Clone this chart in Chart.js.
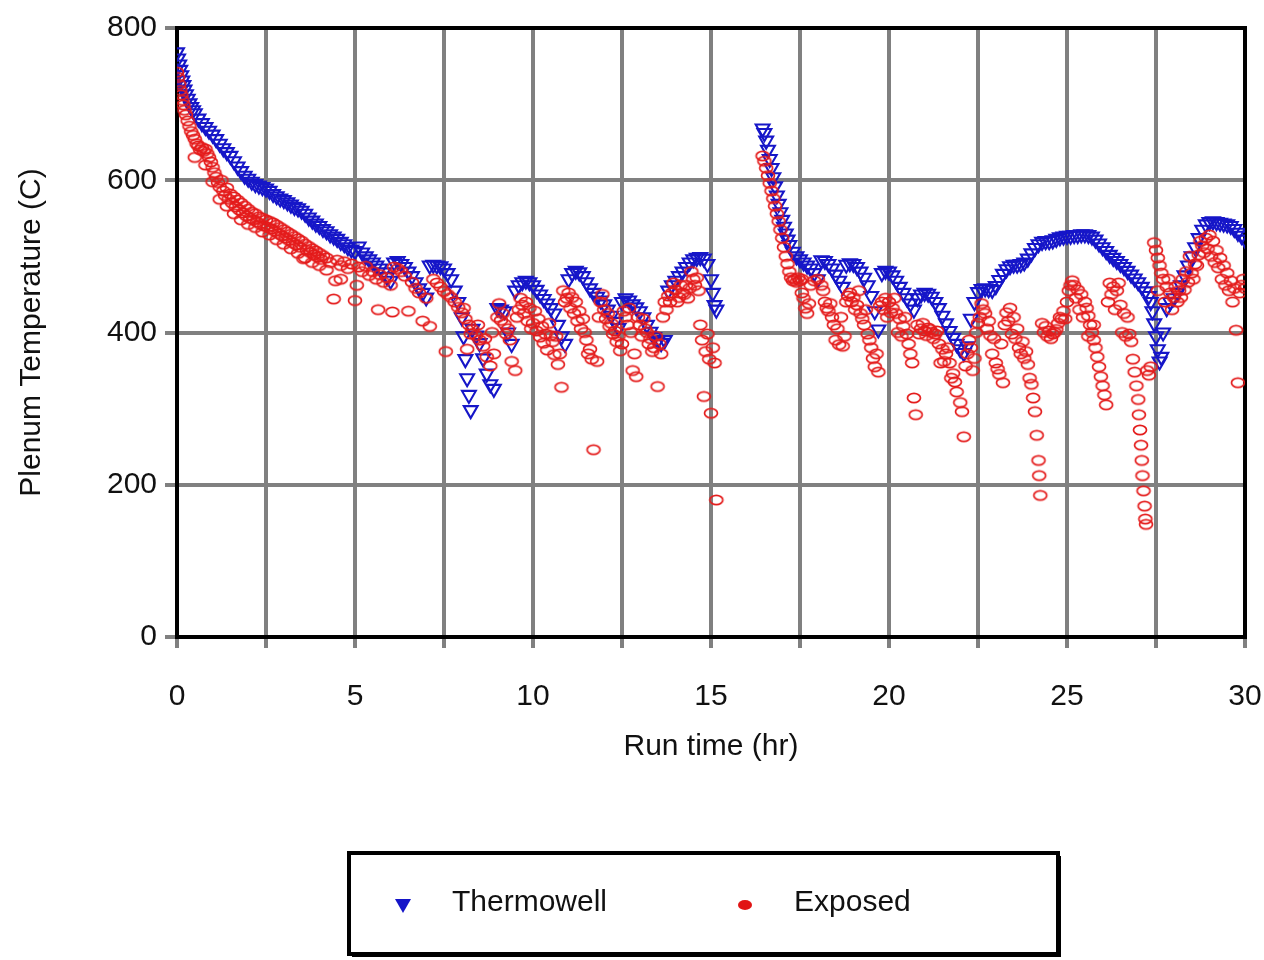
<!DOCTYPE html>
<html>
<head>
<meta charset="utf-8">
<title>Plenum Temperature</title>
<script src="https://cdn.jsdelivr.net/npm/chart.js@4.4.1/dist/chart.umd.min.js"></script>
<style>
  html, body { margin: 0; padding: 0; background: #fff; }
  #wrap { width: 1264px; height: 960px; }
</style>
</head>
<body>
<div id="wrap"><canvas id="chart-plenum" width="1264" height="960"></canvas></div>
<script>
// THERMOWELL READINGS [hr, C] - FIRST RUN
const thermowellRun1 = [
  [0,768],[0.03,760],[0.06,752],[0.09,745],[0.12,738],[0.15,731],[0.18,725],[0.21,719],[0.25,713],[0.3,707],
  [0.35,701],[0.4,696],[0.45,692],[0.5,688],[0.6,681],[0.7,675],[0.8,670],[0.9,665],[1.0,660],[1.1,654],
  [1.2,648],[1.3,642],[1.4,637],[1.5,632],[1.6,625],[1.7,618],[1.8,612],[1.9,606],[2.0,602],[2.1,598],
  [2.2,595],[2.3,593],[2.4,591],[2.5,589],[2.6,586],[2.7,582],[2.8,579],[2.9,576],[3.0,574],[3.1,571],
  [3.2,568],[3.3,565],[3.4,563],[3.5,560],[3.6,556],[3.7,551],[3.8,547],[3.9,543],[4.0,540],[4.1,536],
  [4.2,533],[4.3,529],[4.4,526],[4.5,523],[4.6,519],[4.7,516],[4.8,512],[4.9,509],[5.0,507],[5.1,513],
  [5.2,505],[5.3,500],[5.4,496],[5.5,492],[5.6,488],[5.7,484],[5.8,479],[5.9,473],[6.0,468],[6.1,492],
  [6.2,494],[6.3,490],[6.4,486],[6.5,480],[6.6,474],[6.7,466],[6.8,458],[6.9,452],[7.0,446],[7.1,488],
  [7.2,489],[7.3,488],[7.4,487],[7.5,484],[7.6,478],[7.7,470],[7.8,455],[7.9,440],[8.0,420],[8.05,395],
  [8.1,365],[8.15,340],[8.2,318],[8.25,298],[8.3,405],[8.4,396],[8.5,386],[8.6,366],[8.7,346],[8.8,332],
  [8.9,326],[9.0,432],[9.1,430],[9.2,428],[9.3,400],[9.4,385],[9.5,455],[9.6,462],[9.7,466],[9.8,468],
  [9.9,466],[10.0,462],[10.1,456],[10.2,450],[10.3,444],[10.4,438],[10.5,432],[10.6,425],[10.7,410],[10.8,395],
  [10.9,385],[11.0,470],[11.1,478],[11.2,481],[11.3,479],[11.4,474],[11.5,466],[11.6,458],[11.7,452],[11.8,447],
  [11.9,442],[12.0,437],[12.1,430],[12.2,422],[12.3,414],[12.4,406],[12.5,440],[12.6,445],[12.7,442],[12.8,437],
  [12.9,433],[13.0,428],[13.1,420],[13.2,410],[13.3,401],[13.4,394],[13.5,389],[13.6,386],[13.7,390],[13.8,455],
  [13.9,462],[14.0,468],[14.1,474],[14.2,480],[14.3,486],[14.4,492],[14.5,496],[14.6,498],[14.7,499],[14.8,497],
  [14.9,490],[15.0,470],[15.05,452],[15.1,436],[15.15,430]
];

// THERMOWELL READINGS [hr, C] - SECOND RUN
const thermowellRun2 = [
  [16.45,668],[16.5,662],[16.55,652],[16.6,640],[16.65,628],[16.7,616],[16.75,604],[16.8,592],[16.85,580],[16.9,569],
  [16.95,558],[17.0,548],[17.05,539],[17.1,530],[17.15,522],[17.2,515],[17.3,506],[17.4,500],[17.5,496],[17.6,492],
  [17.7,488],[17.8,484],[17.9,478],[18.0,470],[18.1,495],[18.2,494],[18.3,490],[18.4,484],[18.5,476],[18.6,468],
  [18.7,460],[18.8,489],[18.9,491],[19.0,490],[19.1,486],[19.2,480],[19.3,472],[19.4,462],[19.5,448],[19.6,428],
  [19.7,404],[19.8,478],[19.9,481],[20.0,480],[20.1,475],[20.2,468],[20.3,460],[20.4,452],[20.5,445],[20.6,438],
  [20.7,430],[20.8,445],[20.9,450],[21.0,452],[21.1,451],[21.2,447],[21.3,440],[21.4,432],[21.5,422],[21.6,412],
  [21.7,402],[21.8,393],[21.9,385],[22.0,378],[22.1,373],[22.2,382],[22.3,418],[22.4,440],[22.5,453],[22.6,457],
  [22.7,458],[22.8,457],[22.9,456],[23.0,461],[23.1,469],[23.2,477],[23.3,483],[23.4,487],[23.5,489],[23.6,489],
  [23.7,490],[23.8,492],[23.9,497],[24.0,504],[24.1,511],[24.2,516],[24.3,519],[24.4,520],[24.5,520],[24.6,521],
  [24.7,523],[24.8,525],[24.9,526],[25.0,527],[25.1,527],[25.2,528],[25.3,528],[25.4,529],[25.5,529],[25.6,528],
  [25.7,526],[25.8,522],[25.9,517],[26.0,512],[26.1,507],[26.2,502],[26.3,498],[26.4,494],[26.5,490],[26.6,486],
  [26.7,481],[26.8,476],[26.9,471],[27.0,466],[27.1,460],[27.2,454],[27.3,448],[27.35,440],[27.4,428],[27.45,412],
  [27.5,395],[27.55,378],[27.6,362],[27.65,368],[27.7,400],[27.8,432],[27.9,440],[28.0,445],[28.1,452],[28.2,462],
  [28.3,475],[28.4,488],[28.5,500],[28.6,512],[28.7,524],[28.8,535],[28.9,542],[29.0,545],[29.1,546],[29.2,545],
  [29.3,544],[29.4,543],[29.5,542],[29.6,540],[29.7,536],[29.8,531],[29.9,527],[30.0,522]
];

// EXPOSED THERMOCOUPLE [hr, C] - FIRST RUN
const exposedRun1 = [
  [0,742],[0.03,735],[0.06,726],[0.09,718],[0.12,712],[0.15,705],[0.18,699],[0.21,692],[0.25,686],[0.3,678],
  [0.35,671],[0.4,664],[0.45,659],[0.5,654],[0.55,648],[0.6,645],[0.65,640],[0.7,643],[0.75,638],[0.8,641],
  [0.85,635],[0.9,630],[0.95,624],[1.0,617],[1.05,610],[1.1,604],[1.15,597],[1.2,591],[1.25,600],[1.3,586],
  [1.35,580],[1.4,590],[1.45,575],[1.5,582],[1.55,570],[1.6,578],[1.65,565],[1.7,574],[1.75,561],[1.8,570],
  [1.85,557],[1.9,566],[1.95,553],[2.0,562],[2.05,550],[2.1,558],[2.15,548],[2.2,556],[2.25,545],[2.3,552],
  [2.35,542],[2.4,550],[2.45,540],[2.5,548],[2.55,538],[2.6,546],[2.65,536],[2.7,544],[2.75,533],[2.8,541],
  [2.85,530],[2.9,538],[2.95,527],[3.0,535],[3.05,524],[3.1,532],[3.15,521],[3.2,529],[3.25,518],[3.3,526],
  [3.35,515],[3.4,523],[3.45,512],[3.5,520],[3.55,497],[3.6,516],[3.65,508],[3.7,513],[3.75,505],[3.8,510],
  [3.85,502],[3.9,507],[3.95,499],[4.0,504],[4.05,496],[4.1,501],[4.2,498],[4.3,492],[4.4,444],[4.45,468],
  [4.5,495],[4.6,488],[4.7,493],[4.8,484],[4.9,490],[5.0,442],[5.05,462],[5.1,486],[5.2,480],[5.3,487],
  [5.4,475],[5.5,480],[5.6,470],[5.65,430],[5.7,476],[5.8,466],[5.9,472],[6.0,462],[6.05,427],[6.1,486],
  [6.2,484],[6.3,480],[6.4,474],[6.5,428],[6.6,466],[6.7,458],[6.8,452],[6.9,415],[7.0,445],[7.1,408],
  [7.2,470],[7.3,465],[7.4,460],[7.5,454],[7.55,375],[7.6,450],[7.7,446],[7.8,440],[7.9,433],[8.0,426],
  [8.1,418],[8.15,378],[8.2,410],[8.3,404],[8.4,396],[8.5,390],[8.6,382],[8.7,368],[8.8,356],[8.9,372],
  [9.0,420],[9.1,416],[9.2,411],[9.3,405],[9.4,362],[9.5,350],[9.6,430],[9.7,436],[9.8,440],[9.9,432],
  [10.0,412],[10.1,402],[10.2,394],[10.3,386],[10.4,377],[10.5,396],[10.6,371],[10.7,358],[10.8,328],[10.9,440],
  [11.0,452],[11.1,446],[11.2,440],[11.3,428],[11.4,418],[11.5,390],[11.6,378],[11.7,246],[11.8,362],[11.9,440],
  [12.0,430],[12.1,425],[12.2,412],[12.3,402],[12.4,395],[12.5,385],[12.6,420],[12.7,432],[12.8,350],[12.9,342],
  [13.0,410],[13.1,418],[13.2,400],[13.3,392],[13.4,380],[13.5,329],[13.6,372],[13.7,440],[13.8,448],[13.9,452],
  [14.0,456],[14.1,446],[14.2,452],[14.3,462],[14.4,458],[14.5,470],[14.6,472],[14.7,410],[14.75,390],[14.8,316],
  [14.85,375],[14.9,398],[14.95,365],[15.0,294],[15.05,380],[15.1,360],[15.15,180],
  [0.5,630],[0.8,620],[1.0,598],[1.2,575],[1.4,566],[1.6,556],[1.8,548],[2.0,542],[2.2,538],[2.4,532],
  [2.6,528],[2.8,522],[3.0,516],[3.2,510],[3.4,504],[3.6,498],[3.8,492],[4.0,488],[4.2,482],[4.6,470],
  [8.05,432],[8.25,398],[8.45,410],[8.65,392],[8.85,400],[9.05,438],[9.15,425],[9.25,398],[9.35,390],[9.55,420],
  [9.65,445],[9.75,425],[9.85,415],[9.95,405],[10.05,428],[10.15,418],[10.25,408],[10.35,398],[10.45,412],[10.55,388],
  [10.65,395],[10.75,372],[10.85,455],[10.95,445],[11.05,432],[11.15,425],[11.25,415],[11.35,405],[11.45,400],[11.55,372],
  [11.65,365],[11.85,420],[11.95,450],[12.05,418],[12.15,408],[12.25,398],[12.35,388],[12.45,376],[12.55,428],[12.65,410],
  [12.75,400],[12.85,372],[12.95,420],[13.05,395],[13.15,405],[13.25,385],[13.35,375],[13.45,395],[13.55,385],[13.65,420],
  [13.75,430],[13.85,440],[13.95,465],[14.05,440],[14.15,462],[14.25,450],[14.35,445],[14.45,480],[14.55,462],[14.65,455]
];

// EXPOSED THERMOCOUPLE [hr, C] - SECOND RUN
const exposedRun2 = [
  [16.45,632],[16.5,625],[16.55,616],[16.6,606],[16.65,596],[16.7,586],[16.75,576],[16.8,566],[16.85,556],[16.9,546],
  [16.95,535],[17.0,524],[17.05,512],[17.1,500],[17.15,490],[17.2,480],[17.25,472],[17.3,468],[17.35,470],[17.4,466],
  [17.45,472],[17.5,468],[17.55,452],[17.6,445],[17.65,432],[17.7,425],[17.8,462],[17.9,468],[18.0,470],[18.1,462],
  [18.2,440],[18.25,432],[18.3,428],[18.4,420],[18.45,410],[18.5,390],[18.6,384],[18.7,382],[18.8,440],[18.85,448],
  [18.9,452],[19.0,446],[19.1,436],[19.2,425],[19.25,418],[19.3,410],[19.4,398],[19.5,380],[19.55,366],[19.6,355],
  [19.7,348],[19.75,435],[19.8,440],[19.9,445],[20.0,440],[20.1,432],[20.2,425],[20.3,418],[20.4,408],[20.5,398],
  [20.55,385],[20.6,372],[20.65,360],[20.7,314],[20.75,292],[20.8,410],[20.9,405],[21.0,402],[21.1,406],[21.2,400],
  [21.3,398],[21.4,385],[21.5,378],[21.6,372],[21.7,360],[21.8,346],[21.85,335],[21.9,322],[22.0,308],[22.05,296],
  [22.1,263],[22.2,372],[22.3,380],[22.4,366],[22.5,412],[22.6,438],[22.65,430],[22.7,425],[22.8,415],[22.9,372],
  [23.0,360],[23.05,352],[23.1,345],[23.2,334],[23.3,426],[23.4,432],[23.5,420],[23.6,405],[23.7,372],[23.8,366],
  [23.9,358],[24.0,332],[24.05,314],[24.1,296],[24.15,265],[24.2,232],[24.22,212],[24.25,186],[24.3,412],[24.4,408],
  [24.5,402],[24.6,398],[24.7,404],[24.8,420],[24.9,428],[25.0,440],[25.05,455],[25.1,462],[25.15,468],[25.2,462],
  [25.3,456],[25.4,450],[25.5,440],[25.55,432],[25.6,422],[25.65,410],[25.7,400],[25.75,390],[25.8,380],[25.85,368],
  [25.9,355],[25.95,342],[26.0,330],[26.05,318],[26.1,305],[26.2,465],[26.3,460],[26.4,455],[26.5,436],[26.6,425],
  [26.7,420],[26.75,398],[26.8,388],[26.85,365],[26.9,348],[26.95,330],[27.0,312],[27.02,292],[27.05,272],[27.08,252],
  [27.1,232],[27.12,212],[27.15,192],[27.18,172],[27.2,155],[27.22,148],[27.25,350],[27.3,344],[27.45,518],[27.5,508],
  [27.55,498],[27.6,488],[27.65,478],[27.7,470],[27.8,460],[27.9,452],[28.0,446],[28.1,440],[28.2,446],[28.3,456],
  [28.4,466],[28.5,478],[28.6,490],[28.7,502],[28.8,514],[28.9,524],[29.0,528],[29.1,520],[29.2,508],[29.3,498],
  [29.4,488],[29.5,478],[29.6,468],[29.7,458],[29.75,403],[29.8,334],[29.85,452],[29.9,462],[29.95,470],[30.0,458],
  [17.55,470],[17.75,438],[18.15,455],[18.35,438],[18.55,405],[18.65,420],[18.75,395],[18.95,440],[19.05,430],[19.15,455],
  [19.35,430],[19.45,390],[19.65,372],[19.85,430],[19.95,420],[20.05,426],[20.15,445],[20.25,400],[20.35,395],[20.45,420],
  [20.85,398],[20.95,412],[21.05,396],[21.15,404],[21.25,392],[21.35,402],[21.45,360],[21.55,362],[21.65,380],[21.75,340],
  [22.15,356],[22.25,390],[22.35,350],[22.45,400],[22.55,420],[22.75,405],[22.85,396],[22.95,392],[23.15,385],[23.25,410],
  [23.35,415],[23.45,398],[23.55,392],[23.65,380],[23.75,388],[23.85,375],[23.95,340],[24.35,400],[24.45,395],[24.55,392],
  [24.65,400],[24.75,412],[24.85,418],[24.95,418],[25.25,445],[25.35,430],[25.45,420],[25.6,395],[25.75,410],[26.15,440],
  [26.25,450],[26.35,430],[26.45,465],[26.55,400],[26.65,395],[27.35,355],[27.55,455],[27.75,440],[27.85,470],[27.95,430],
  [28.05,460],[28.15,455],[28.25,470],[28.35,480],[28.45,500],[28.55,470],[28.65,488],[28.75,520],[28.85,505],[28.95,510],
  [29.05,500],[29.15,492],[29.25,485],[29.35,470],[29.45,462],[29.55,455],[29.65,440]
];

// AXIS SETTINGS
const timeRange = [0, 30];
const tempRange = [0, 800];
const timeStep = 2.5;
const timeLabelStep = 5;
const tempStep = 200;

const FONT = "'Liberation Sans', Arial, Helvetica, sans-serif";
const BLUE = 'rgb(22, 22, 200)';
const RED = 'rgb(228, 28, 28)';

function toXY(rows) {
  return rows.map(r => ({ x: r[0], y: r[1] }));
}

// OPEN OVAL MARKER FOR THE EXPOSED SERIES
function makeRing(color) {
  const c = document.createElement('canvas');
  c.width = 18;
  c.height = 14;
  const g = c.getContext('2d');
  g.strokeStyle = color;
  g.lineWidth = 1.7;
  g.beginPath();
  g.ellipse(9, 7, 6.5, 4.6, 0, 0, Math.PI * 2);
  g.stroke();
  return c;
}

// BLACK FRAME AROUND THE PLOT AREA
const plotFrame = {
  id: 'plotFrame',
  beforeDatasetsDraw(chart) {
    const { ctx, chartArea: a } = chart;
    ctx.save();
    ctx.strokeStyle = '#000';
    ctx.lineWidth = 4;
    ctx.strokeRect(a.left, a.top, a.right - a.left, a.bottom - a.top);
    ctx.restore();
  }
};

// BOXED LEGEND UNDER THE CHART
const boxLegend = {
  id: 'boxLegend',
  afterDraw(chart) {
    const ctx = chart.ctx;
    const box = { x: 349, y: 853, w: 709, h: 101 };
    ctx.save();
    ctx.fillStyle = '#000';
    ctx.fillRect(box.x + 3, box.y + 3, box.w, box.h);
    ctx.fillStyle = '#fff';
    ctx.fillRect(box.x, box.y, box.w, box.h);
    ctx.strokeStyle = '#000';
    ctx.lineWidth = 4;
    ctx.strokeRect(box.x, box.y, box.w, box.h);

    const cy = 905;
    const markerX = [403, 745];
    chart.data.datasets.forEach((ds, i) => {
      const mx = markerX[i];
      ctx.fillStyle = ds.legendColor;
      ctx.beginPath();
      if (i === 0) {
        ctx.moveTo(mx - 8, cy - 6);
        ctx.lineTo(mx + 8, cy - 6);
        ctx.lineTo(mx, cy + 8);
        ctx.closePath();
      } else {
        ctx.ellipse(mx, cy, 7, 5, 0, 0, Math.PI * 2);
      }
      ctx.fill();
      ctx.fillStyle = '#111';
      ctx.font = '30px ' + FONT;
      ctx.textBaseline = 'middle';
      ctx.textAlign = 'left';
      ctx.fillText(ds.label, mx + 49, cy - 2);
    });
    ctx.restore();
  }
};

const ctx = document.getElementById('chart-plenum');
const chartPlenum = new Chart(ctx, {
  type: 'scatter',
  data: {
    datasets: [
      {
        label: 'Thermowell',
        data: toXY(thermowellRun1.concat(thermowellRun2)),
        pointStyle: 'triangle',
        rotation: 180,
        pointRadius: 8,
        borderColor: BLUE,
        backgroundColor: 'rgba(0,0,0,0)',
        borderWidth: 2.1,
        legendColor: 'rgb(20, 20, 200)',
        order: 2
      },
      {
        label: 'Exposed',
        data: toXY(exposedRun1.concat(exposedRun2)),
        pointStyle: makeRing(RED),
        pointRadius: 6,
        borderColor: RED,
        legendColor: 'rgb(225, 20, 20)',
        order: 1
      }
    ]
  },
  options: {
    responsive: false,
    animation: false,
    events: [],
    layout: { padding: { top: 28, right: 19, bottom: 190, left: 0 } },
    plugins: {
      legend: { display: false },
      tooltip: { enabled: false }
    },
    scales: {
      x: {
        type: 'linear',
        min: timeRange[0],
        max: timeRange[1],
        ticks: {
          stepSize: timeStep,
          autoSkip: false,
          maxRotation: 0,
          padding: 31,
          color: '#111',
          font: { family: FONT, size: 30 },
          callback: v => (v % timeLabelStep === 0 ? String(v) : '')
        },
        grid: { color: '#808080', lineWidth: 4, tickLength: 11 },
        border: { display: false },
        title: {
          display: true,
          text: 'Run time (hr)',
          color: '#111',
          font: { family: FONT, size: 30 },
          padding: { top: 0, bottom: 5 }
        },
        afterFit(scale) {
          scale.height = 133;
          scale.paddingLeft = 0;
          scale.paddingRight = 0;
        }
      },
      y: {
        min: tempRange[0],
        max: tempRange[1],
        ticks: {
          stepSize: tempStep,
          padding: 8,
          color: '#111',
          font: { family: FONT, size: 30 }
        },
        grid: { color: '#808080', lineWidth: 4, tickLength: 12 },
        border: { display: false },
        title: {
          display: true,
          text: 'Plenum Temperature (C)',
          color: '#111',
          font: { family: FONT, size: 30 },
          padding: { top: 14, bottom: 0 }
        },
        afterFit(scale) { scale.width = 177; }
      }
    }
  },
  plugins: [plotFrame, boxLegend]
});
</script>
</body>
</html>
